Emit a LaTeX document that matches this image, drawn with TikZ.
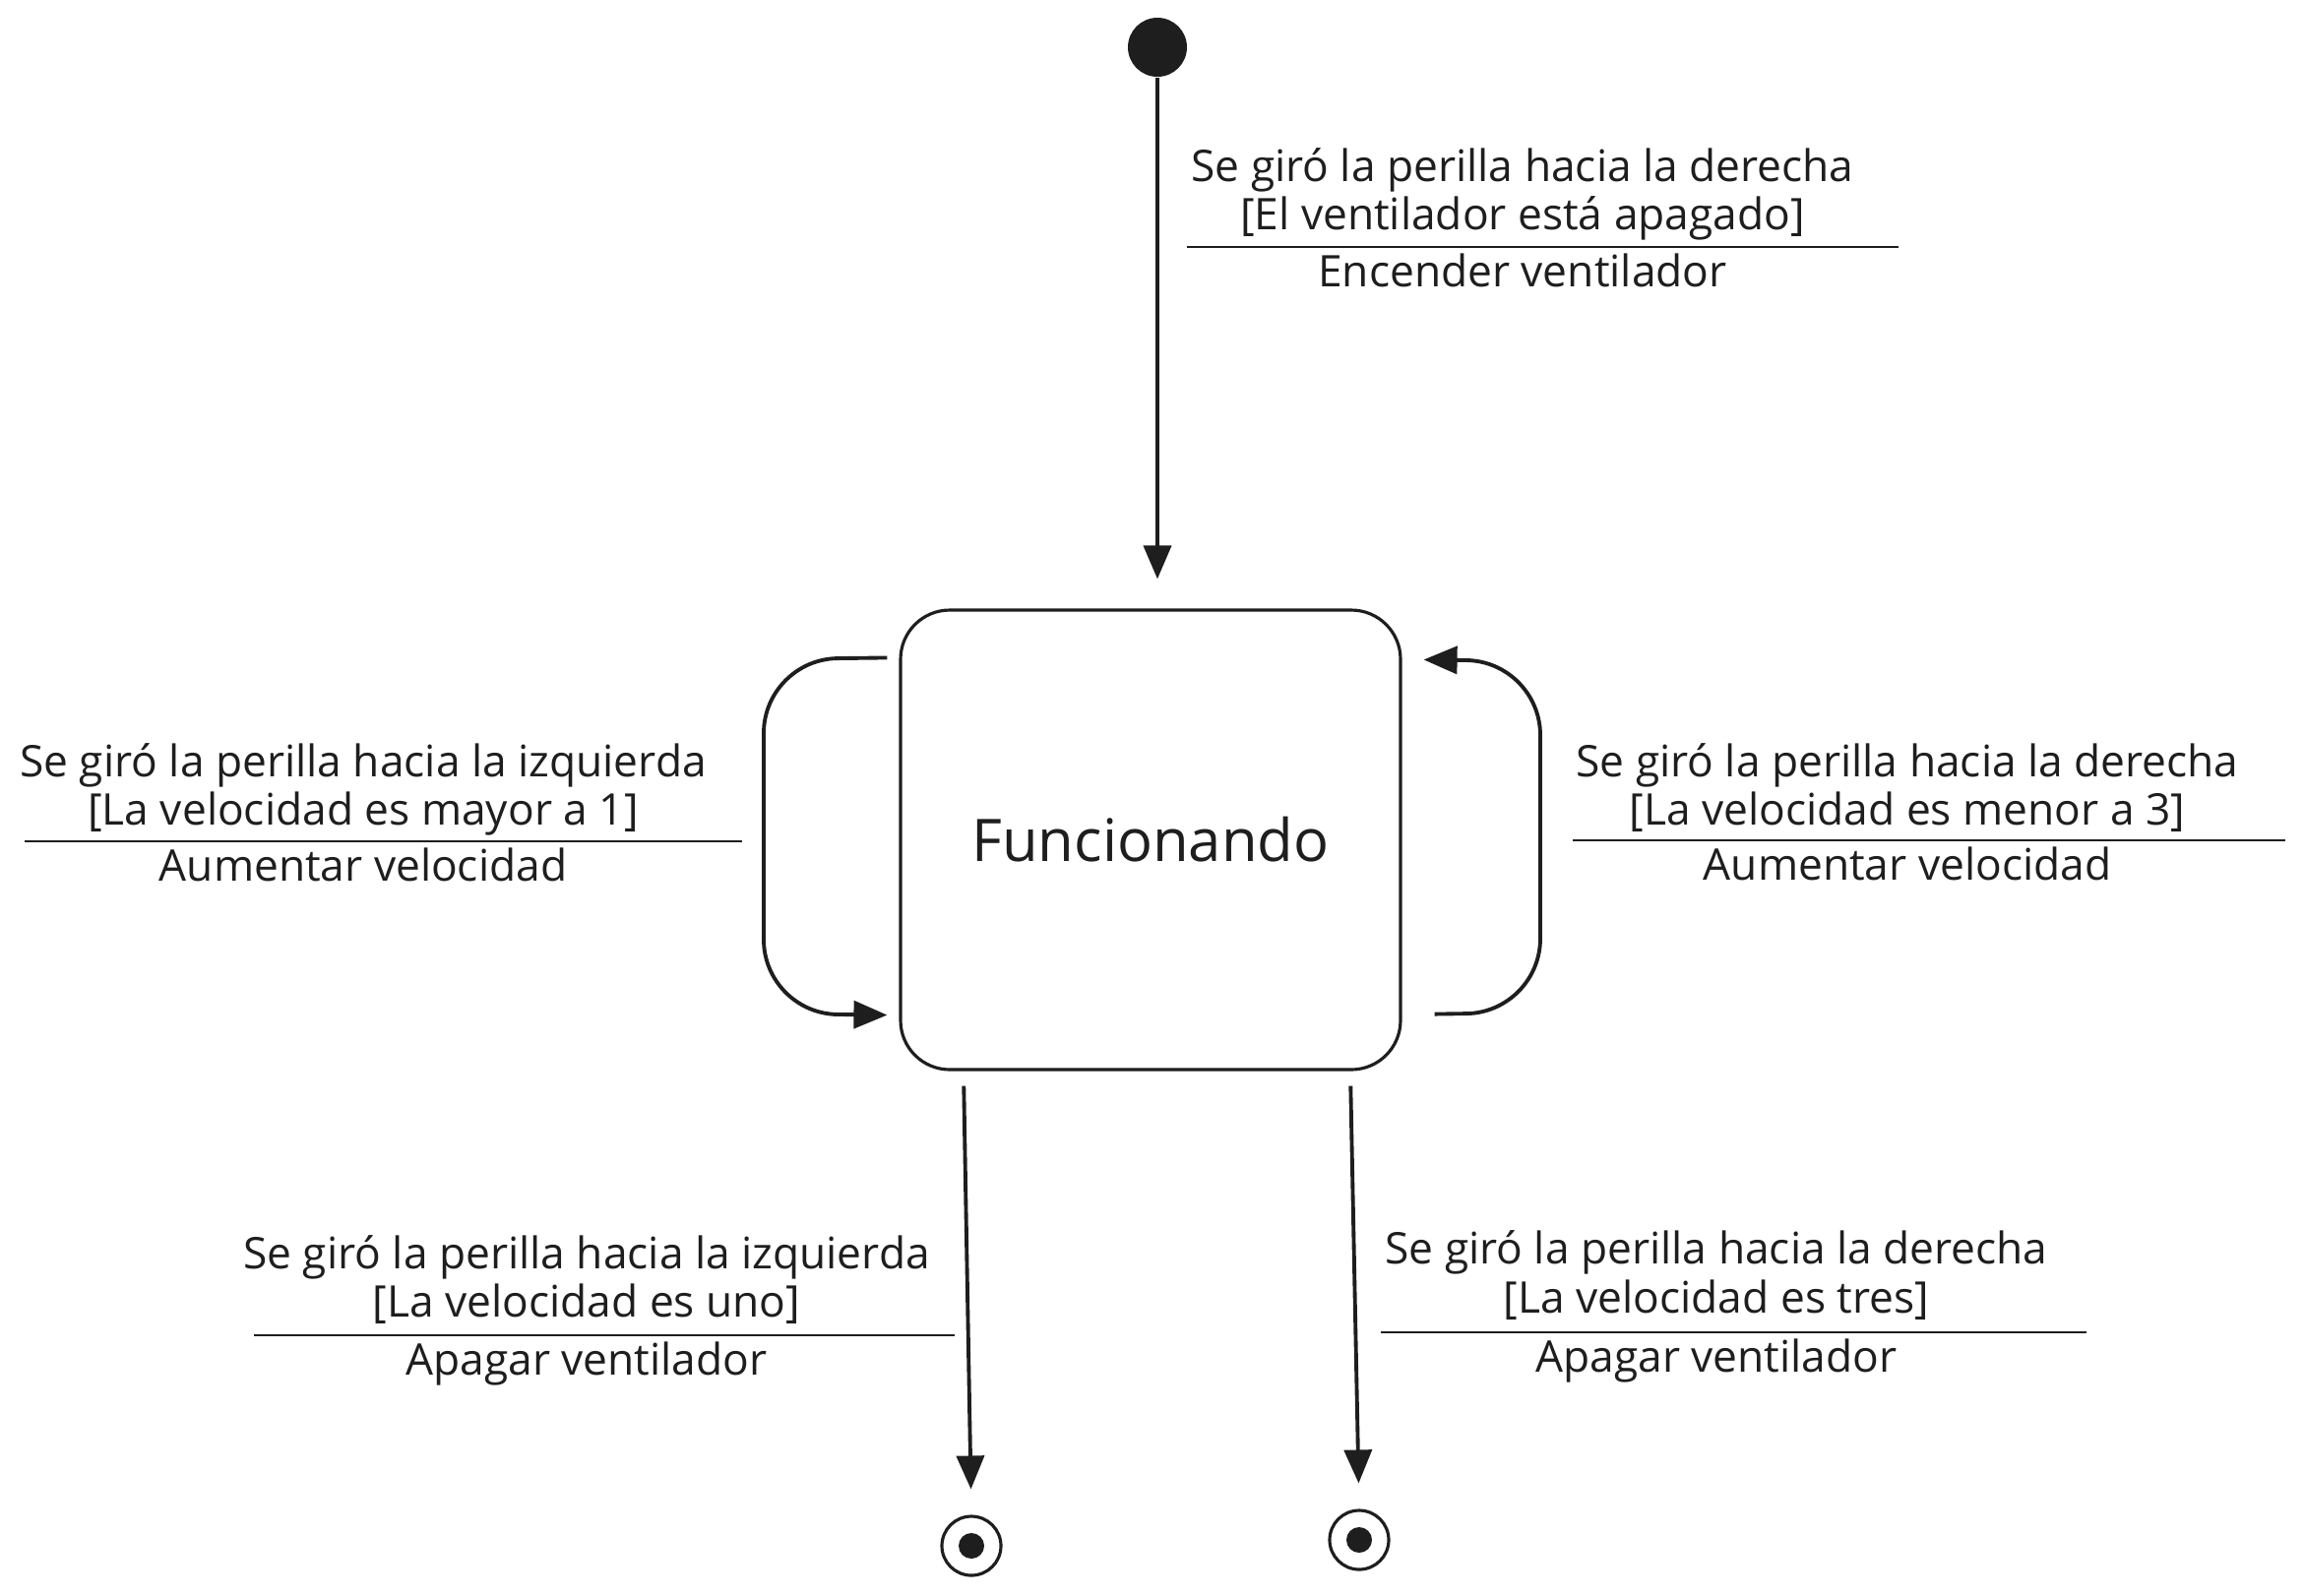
\documentclass[tikz,border=0pt]{standalone}
\usepackage{fontspec}
\setmainfont{Open Sans}
\usetikzlibrary{arrows.meta}
\definecolor{ink}{HTML}{1E1E1E}
\tikzset{
  arr/.style={draw=ink, line width=1.1pt, -{Triangle[length=0.34cm,width=0.28cm]}},
  lbl/.style={text=ink, font=\fontsize{12.6}{14}\selectfont, align=center, inner sep=0pt},
  rulel/.style={draw=ink, line width=0.8pt},
  statebox/.style={draw=ink, line width=0.9pt, rounded corners=0.5cm, minimum width=5.08cm, minimum height=4.67cm, font=\fontsize{17}{20}\selectfont, text=ink},
  startdot/.style={circle, fill=ink, minimum size=0.6cm, inner sep=0pt},
  enddot/.style={circle, draw=ink, line width=0.9pt, minimum size=0.6cm, inner sep=0pt},
}
\begin{document}
\begin{tikzpicture}
\useasboundingbox (0,0) rectangle (23.41,-16.21);
% nodes
\node[startdot] (start) at (11.76,-0.48) {};
\node[statebox] (state) at (11.69,-8.535) {Funcionando};
\node[enddot] (end1) at (9.87,-15.71) {};
\fill[ink] (end1) circle (0.13);
\node[enddot] (end2) at (13.81,-15.65) {};
\fill[ink] (end2) circle (0.13);

% connectors
\draw[arr, shorten >=0.3cm] (start.south) -- (start.south |- state.north);
\draw[arr, shorten <=0.15cm, shorten >=0.26cm] ([xshift=-0.08cm]end1 |- state.south) -- (end1.north);
\draw[arr, shorten <=0.15cm, shorten >=0.26cm] ([xshift=-0.09cm]end2 |- state.south) -- (end2.north);
\coordinate (la) at ([xshift=-0.12cm, yshift=-0.5cm]state.north west);
\coordinate (lb) at ([xshift=-0.12cm, yshift=0.57cm]state.south west);
\draw[arr, rounded corners=0.75cm] (la) -- (7.76,-6.70) -- (7.76,-10.30) -- (lb);
\coordinate (ra) at ([xshift=0.33cm, yshift=0.58cm]state.south east);
\coordinate (rb) at ([xshift=0.22cm, yshift=-0.52cm]state.north east);
\draw[arr, rounded corners=0.75cm] (ra) -- (15.65,-10.29) -- (15.65,-6.72) -- (rb);

% labels
\node[lbl] (t1) at (15.47,-1.975) {Se giró la perilla hacia la derecha\\{[}El ventilador está apagado{]}};
\draw[rulel] (12.06,-2.51) -- (19.29,-2.51);
\node[lbl, anchor=north] (t2) at (15.47,-2.57) {Encender ventilador};

\node[lbl] (l1) at (3.69,-8.025) {Se giró la perilla hacia la izquierda\\{[}La velocidad es mayor a 1{]}};
\draw[rulel] (0.25,-8.55) -- (7.54,-8.55);
\node[lbl, anchor=north] (l2) at (3.69,-8.61) {Aumentar velocidad};

\node[lbl] (r1) at (19.38,-8.005) {Se giró la perilla hacia la derecha\\{[}La velocidad es menor a 3{]}};
\draw[rulel] (15.98,-8.54) -- (23.22,-8.54);
\node[lbl, anchor=north] (r2) at (19.38,-8.60) {Aumentar velocidad};

\node[lbl] (b1) at (5.96,-13.005) {Se giró la perilla hacia la izquierda\\{[}La velocidad es uno{]}};
\draw[rulel] (2.58,-13.57) -- (9.70,-13.57);
\node[lbl, anchor=north] (b2) at (5.96,-13.63) {Apagar ventilador};

\node[lbl] (c1) at (17.44,-12.96) {Se giró la perilla hacia la derecha\\{[}La velocidad es tres{]}};
\draw[rulel] (14.03,-13.54) -- (21.20,-13.54);
\node[lbl, anchor=north] (c2) at (17.44,-13.60) {Apagar ventilador};
\end{tikzpicture}
\end{document}
